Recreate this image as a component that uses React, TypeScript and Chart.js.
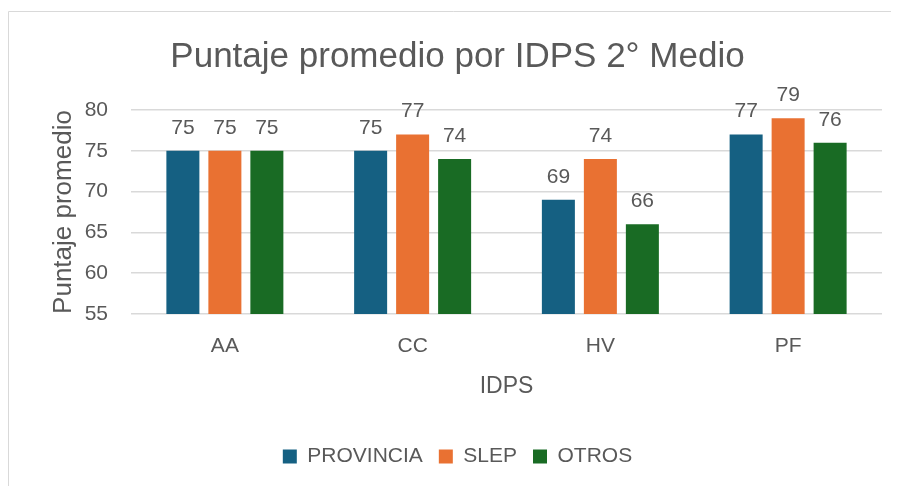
import React, { useEffect, useRef } from "react";
import { Chart, registerables } from "chart.js";

Chart.register(...registerables);

const categories = ["AA", "CC", "HV", "PF"];
const provincia = [75, 75, 69, 77];
const slep = [75, 77, 74, 79];
const otros = [75, 74, 66, 76];
const yTicks = [55, 60, 65, 70, 75, 80];

const FONT = "'Liberation Sans', Arial, sans-serif";
const TXT = "#595959";

const framePlugin = {
  id: "frame",
  beforeDraw(chart: any) {
    const ctx = chart.ctx;
    ctx.save();
    ctx.strokeStyle = "#d9d9d9";
    ctx.lineWidth = 1;
    ctx.beginPath();
    ctx.moveTo(0.5, chart.height);
    ctx.lineTo(0.5, 3.5);
    ctx.lineTo(chart.width, 3.5);
    ctx.stroke();
    ctx.restore();
  },
};

const labelPlugin = {
  id: "valueLabels",
  afterDatasetsDraw(chart: any) {
    const ctx = chart.ctx;
    ctx.save();
    ctx.font = `21px ${FONT}`;
    ctx.fillStyle = TXT;
    ctx.textAlign = "center";
    ctx.textBaseline = "alphabetic";
    chart.data.datasets.forEach((ds: any, i: number) => {
      const meta = chart.getDatasetMeta(i);
      meta.data.forEach((bar: any, j: number) => {
        ctx.fillText(String(ds.data[j]), bar.x, bar.y - 17);
      });
    });
    ctx.restore();
  },
};

export default function App() {
  const ref = useRef<HTMLCanvasElement>(null);
  useEffect(() => {
    if (!ref.current) return;
    const chart = new Chart(ref.current, {
      type: "bar",
      data: {
        labels: categories,
        datasets: [
          { label: "PROVINCIA", data: provincia, backgroundColor: "#156082" },
          { label: "SLEP", data: slep, backgroundColor: "#E97132" },
          { label: "OTROS", data: otros, backgroundColor: "#196B24" },
        ],
      },
      options: {
        animation: false,
        responsive: false,
        maintainAspectRatio: false,
        layout: { padding: { top: 28, left: 25, right: 17, bottom: 9 } },
        datasets: {
          bar: { categoryPercentage: 0.671, barPercentage: 0.786 },
        } as any,
        plugins: {
          tooltip: { enabled: false },
          title: {
            display: true,
            text: "Puntaje promedio por IDPS 2° Medio",
            color: TXT,
            font: { family: FONT, size: 35, weight: "normal" },
            padding: { top: 0, bottom: 32 },
          },
          legend: {
            display: true,
            position: "bottom",
            labels: {
              color: TXT,
              font: { family: FONT, size: 21 },
              boxWidth: 14,
              boxHeight: 14,
              padding: 16,
            },
          },
        },
        scales: {
          x: {
            grid: { display: false },
            border: { display: false },
            ticks: { color: TXT, font: { family: FONT, size: 21 }, padding: 12 },
            title: {
              display: true,
              text: "IDPS",
              color: TXT,
              font: { family: FONT, size: 23 },
              padding: { top: 11, bottom: 30 },
            },
            afterFit(axis: any) {
              axis.height = 116;
            },
          },
          y: {
            min: 55,
            max: 80,
            afterBuildTicks(axis: any) {
              axis.ticks = yTicks.map((v) => ({ value: v }));
            },
            afterFit(axis: any) {
              axis.width = 98;
            },
            grid: { color: "#d9d9d9", lineWidth: 1.5, drawTicks: false },
            border: { display: false },
            ticks: { color: TXT, font: { family: FONT, size: 21 }, padding: 23 },
            title: {
              display: true,
              text: "Puntaje promedio",
              color: TXT,
              font: { family: FONT, size: 26 },
              padding: { top: 15, bottom: 0 },
            },
          },
        },
      },
      plugins: [framePlugin, labelPlugin],
    });
    return () => chart.destroy();
  }, []);
  return <canvas ref={ref} width={891} height={478} style={{ display: "block" }} />;
}
